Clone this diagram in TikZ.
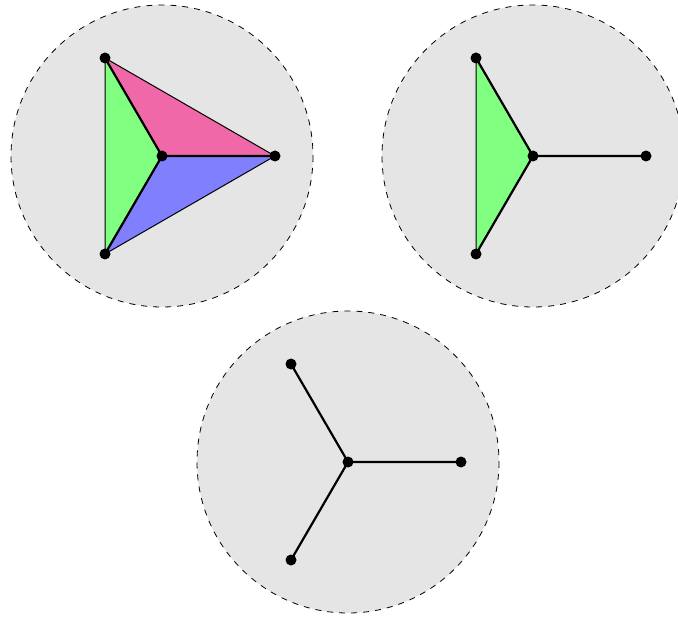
\documentclass[tikz,border=0pt]{standalone}
\usepackage{tikz}
\usetikzlibrary{positioning,calc}
\definecolor{DiskGray}{RGB}{229,229,229}
\definecolor{FaceGreen}{RGB}{128,255,128}
\definecolor{FaceBlue}{RGB}{128,128,255}
\definecolor{FacePink}{RGB}{241,104,168}

\tikzset{
  disk/.style={draw,dashed,fill=DiskGray},
  vtx/.style={circle,inner sep=0pt,minimum size=0pt},
  spoke/.style={line width=1.1pt},
  face/.style={draw=black,line width=0.5pt}
}

\begin{document}
\begin{tikzpicture}[x=0.5pt,y=-0.5pt]
  \useasboundingbox (0,0) rectangle (678,619);
  % disks
  \draw[disk] (162,156) circle (151);
  \draw[disk] (533,156) circle (151);
  \draw[disk] (348,462) circle (151);

  % first disk: three faces
  \node[vtx] (ac) at (162,156) {};
  \node[vtx] (at) at (105,58) {};
  \node[vtx] (ab) at (105,254) {};
  \node[vtx] (ar) at (275,156) {};
  \filldraw[face,fill=FaceGreen] (ac.center)--(at.center)--(ab.center)--cycle;
  \filldraw[face,fill=FacePink] (ac.center)--(at.center)--(ar.center)--cycle;
  \filldraw[face,fill=FaceBlue] (ac.center)--(ab.center)--(ar.center)--cycle;
  \draw[spoke] (ac.center)--(at.center) (ac.center)--(ab.center) (ac.center)--(ar.center);

  % second disk: one face
  \node[vtx] (bc) at (533,156) {};
  \node[vtx] (bt) at (476,58) {};
  \node[vtx] (bb) at (476,254) {};
  \node[vtx] (br) at (646,156) {};
  \filldraw[face,fill=FaceGreen] (bc.center)--(bt.center)--(bb.center)--cycle;
  \draw[spoke] (bc.center)--(bt.center) (bc.center)--(bb.center) (bc.center)--(br.center);

  % third disk: no face
  \node[vtx] (cc) at (348,462) {};
  \node[vtx] (ct) at (291,364) {};
  \node[vtx] (cb) at (291,560) {};
  \node[vtx] (cr) at (461,462) {};
  \draw[spoke] (cc.center)--(ct.center) (cc.center)--(cb.center) (cc.center)--(cr.center);

  % dots on top
  \foreach \v in {ac,at,ab,ar,bc,bt,bb,br,cc,ct,cb,cr}
    \fill (\v) circle (5.5);
\end{tikzpicture}
\end{document}
